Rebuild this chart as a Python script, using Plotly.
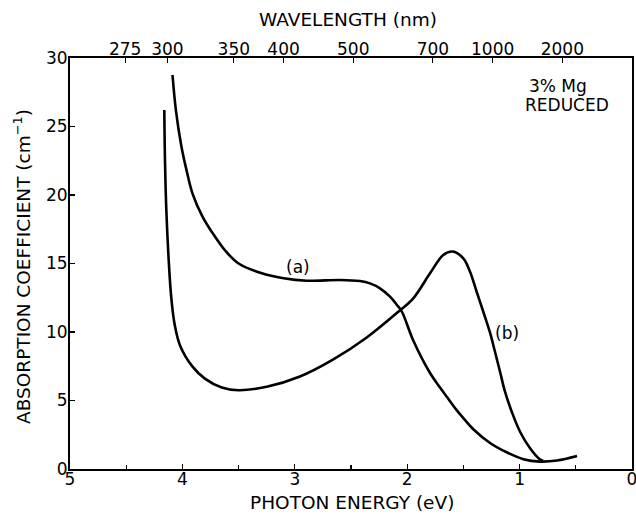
import plotly.graph_objects as go

# Curve (a): photon energy (eV) and absorption coefficient (cm^-1)
energy_a = [4.088, 4.058, 4.010, 3.963, 3.910, 3.820, 3.730, 3.620, 3.500, 3.300,
            3.100, 2.894, 2.598, 2.420, 2.331, 2.242, 2.153, 2.091, 2.046, 1.948,
            1.797, 1.708, 1.646, 1.560, 1.504, 1.412, 1.263, 1.115, 0.967, 0.820,
            0.667, 0.489]
absorb_a = [28.76, 26.2, 23.6, 21.8, 20.1, 18.4, 17.2, 15.95, 15.0, 14.3,
            13.92, 13.74, 13.80, 13.72, 13.55, 13.19, 12.58, 11.97, 11.46, 9.42,
            7.01, 5.95, 5.25, 4.30, 3.75, 2.90, 1.90, 1.22, 0.72, 0.54,
            0.62, 0.95]

# Curve (b)
energy_b = [4.161, 4.155, 4.143, 4.122, 4.100, 4.070, 4.020, 3.910, 3.800, 3.650,
            3.500, 3.250, 2.954, 2.657, 2.360, 2.079, 1.946, 1.797, 1.679, 1.595,
            1.501, 1.441, 1.382, 1.323, 1.263, 1.219, 1.174, 1.130, 1.070, 0.996,
            0.907, 0.819, 0.790]
absorb_b = [26.2, 22.55, 18.9, 15.26, 12.6, 10.6, 9.0, 7.47, 6.6, 5.95,
            5.75, 6.0, 6.75, 8.0, 9.6, 11.48, 12.46, 14.28, 15.62, 15.87,
            15.38, 14.40, 12.94, 11.48, 9.95, 8.56, 7.10, 5.64, 4.18, 2.72,
            1.51, 0.70, 0.60]

# Axis ticks
energy_ticks = [5, 4, 3, 2, 1, 0]
absorb_ticks = [0, 5, 10, 15, 20, 25, 30]
wavelength_ticks = [275, 300, 350, 400, 500, 700, 1000, 2000]

FONT = "DejaVu Sans, Liberation Sans, Arial, sans-serif"
TICK = 17
TITLE = 18.5

line_style = dict(color="black", width=2.6, shape="spline", smoothing=1.0)

fig = go.Figure()
fig.add_trace(go.Scatter(x=energy_a, y=absorb_a, mode="lines", line=line_style,
                         showlegend=False, hoverinfo="skip"))
fig.add_trace(go.Scatter(x=energy_b, y=absorb_b, mode="lines", line=line_style,
                         showlegend=False, hoverinfo="skip"))
# empty trace that activates the top (wavelength) axis
fig.add_trace(go.Scatter(x=[None], y=[None], xaxis="x2", showlegend=False, hoverinfo="skip"))

PW, PH = 562, 411  # plot area size in px


def px(xw):
    return (xw - 70) / PW


def py(yw):
    return (469 - yw) / PH


fig.update_layout(
    width=636, height=514,
    margin=dict(l=70, r=4, t=58, b=45),
    paper_bgcolor="white", plot_bgcolor="white",
    font=dict(family=FONT, size=TICK, color="black"),
    xaxis=dict(
        range=[5, 0], tickvals=energy_ticks, ticktext=[str(v) for v in energy_ticks],
        ticks="inside", ticklen=5, tickwidth=1.2, tickcolor="black",
        minor=dict(dtick=0.5, ticks="inside", ticklen=4, tickcolor="black"),
        showline=True, linecolor="black", linewidth=2, mirror=True,
        showgrid=False, zeroline=False, automargin=False,
        tickfont=dict(size=TICK), ticklabelstandoff=-6, ticklabeloverflow="allow",
    ),
    xaxis2=dict(
        overlaying="x", side="top", range=[5, 0],
        tickvals=[1240.0 / w for w in wavelength_ticks],
        ticktext=[str(w) for w in wavelength_ticks],
        ticks="inside", ticklen=5, tickwidth=1.2, tickcolor="black",
        showline=True, linecolor="black", linewidth=2,
        showgrid=False, zeroline=False, automargin=False,
        tickfont=dict(size=TICK), ticklabelstandoff=-6,
    ),
    yaxis=dict(
        range=[0, 30], tickvals=absorb_ticks,
        ticks="inside", ticklen=5, tickwidth=1.2, tickcolor="black",
        showline=True, linecolor="black", linewidth=2, mirror=True,
        showgrid=False, zeroline=False, automargin=False,
        tickfont=dict(size=TICK), ticklabelstandoff=-3,
    ),
    annotations=[
        dict(x=px(352), y=py(503), xref="paper", yref="paper",
             xanchor="center", yanchor="middle",
             text="PHOTON ENERGY (eV)", showarrow=False, font=dict(size=TITLE)),
        dict(x=px(348), y=py(19), xref="paper", yref="paper",
             xanchor="center", yanchor="middle",
             text="WAVELENGTH (nm)", showarrow=False, font=dict(size=TITLE)),
        dict(x=px(22), y=py(267), xref="paper", yref="paper",
             xanchor="center", yanchor="middle",
             text="ABSORPTION COEFFICIENT (cm<sup>−1</sup>)", textangle=-90,
             showarrow=False, font=dict(size=TITLE)),
        dict(x=2.976, y=14.77, text="(a)", showarrow=False, xref="x", yref="y",
             xanchor="center", yanchor="middle", font=dict(size=TICK)),
        dict(x=1.108, y=9.96, text="(b)", showarrow=False, xref="x", yref="y",
             xanchor="center", yanchor="middle", font=dict(size=TICK)),
        dict(x=px(558), y=py(86), xref="paper", yref="paper",
             xanchor="center", yanchor="middle",
             text="3% Mg", showarrow=False, font=dict(size=TICK)),
        dict(x=px(567), y=py(105), xref="paper", yref="paper",
             xanchor="center", yanchor="middle",
             text="REDUCED", showarrow=False, font=dict(size=TICK)),
    ],
)

# remove the page's default 8px body margin so the figure fills the window
fig.write_html("out.html",
               config={"displayModeBar": False, "staticPlot": True},
               post_script="document.body.style.margin='0px';"
                           "document.body.style.overflow='hidden';")
